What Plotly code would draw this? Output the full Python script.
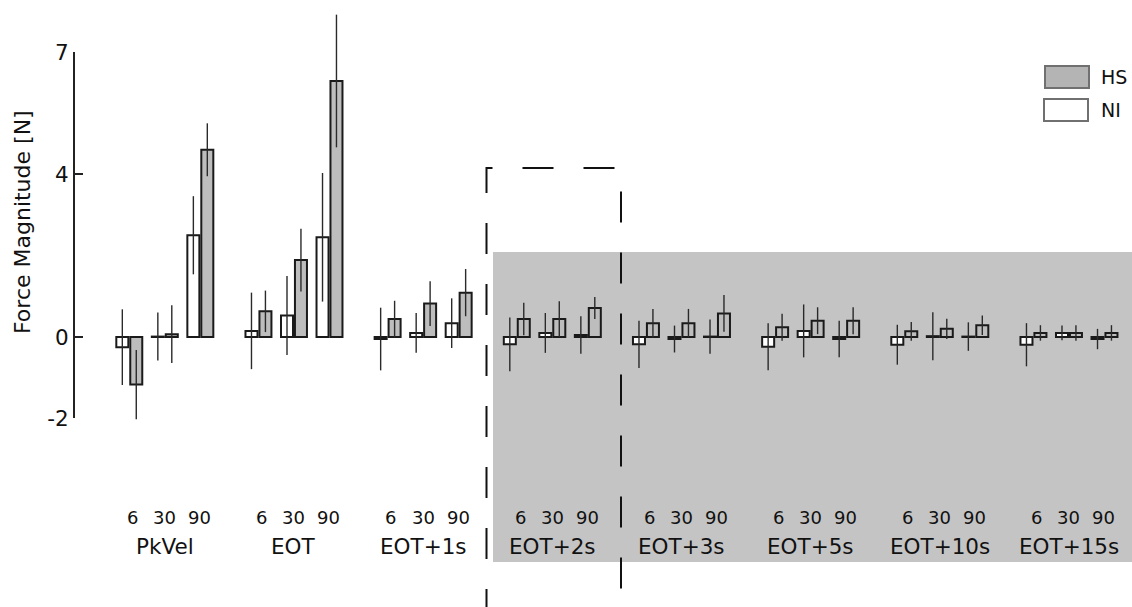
import plotly.graph_objects as go

# ---------------- data ----------------
groups = ["PkVel", "EOT", "EOT+1s", "EOT+2s", "EOT+3s", "EOT+5s", "EOT+10s", "EOT+15s"]
speeds = ["6", "30", "90"]

ni_vals = [
    [-0.25, 0.01, 2.50],
    [0.15, 0.53, 2.45],
    [-0.05, 0.10, 0.34],
    [-0.18, 0.10, 0.05],
    [-0.18, -0.05, 0.01],
    [-0.24, 0.15, -0.05],
    [-0.19, 0.02, 0.01],
    [-0.19, 0.10, -0.05],
]
ni_err = [
    [0.93, 0.59, 0.96],
    [0.94, 0.97, 1.58],
    [0.77, 0.49, 0.61],
    [0.66, 0.49, 0.46],
    [0.58, 0.33, 0.42],
    [0.58, 0.65, 0.45],
    [0.49, 0.59, 0.35],
    [0.53, 0.18, 0.25],
]
hs_vals = [
    [-1.17, 0.07, 4.60],
    [0.63, 1.89, 6.29],
    [0.44, 0.82, 1.09],
    [0.44, 0.44, 0.71],
    [0.34, 0.34, 0.58],
    [0.24, 0.40, 0.40],
    [0.14, 0.20, 0.29],
    [0.10, 0.10, 0.10],
]
hs_err = [
    [0.85, 0.71, 0.65],
    [0.51, 0.77, 1.63],
    [0.45, 0.55, 0.58],
    [0.40, 0.44, 0.27],
    [0.35, 0.35, 0.45],
    [0.33, 0.33, 0.33],
    [0.23, 0.25, 0.24],
    [0.19, 0.19, 0.19],
]
y_ticks = [-2, 0, 4, 7]

# ---------------- layout helpers ----------------
W, H = 1132, 607
FONT = "DejaVu Sans"
pair_off = [-0.275, 0.0, 0.275]
half = 0.054
bar_w = 0.093
label_off = [-0.25, 0.0, 0.27]

def flat(a):
    return [v for row in a for v in row]

ni_x = [g + pair_off[j] - half for g in range(len(groups)) for j in range(3)]
hs_x = [g + pair_off[j] + half for g in range(len(groups)) for j in range(3)]

err_style = dict(type="data", visible=True, thickness=1.4, width=0, color="#2a2a2a")

fig = go.Figure()
fig.add_trace(go.Bar(
    x=ni_x, y=flat(ni_vals), width=bar_w, name="NI",
    marker=dict(color="white", line=dict(color="#1a1a1a", width=2)),
    error_y=dict(array=flat(ni_err), **err_style),
))
fig.add_trace(go.Bar(
    x=hs_x, y=flat(hs_vals), width=bar_w, name="HS",
    marker=dict(color="#bdbdbd", line=dict(color="#1a1a1a", width=2)),
    error_y=dict(array=flat(hs_err), **err_style),
))
# axis-only subplot for the visible y axis
fig.add_trace(go.Scatter(x=[], y=[], xaxis="x2", yaxis="y2", showlegend=False))

def py(px):
    return 1 - px / H

def pxx(px):
    return px / W

shapes = [
    dict(type="rect", xref="paper", yref="paper", x0=pxx(493), x1=1.0, y0=py(562), y1=py(252),
         fillcolor="#c4c4c4", line=dict(width=0), layer="below"),
    dict(type="path", xref="paper", yref="paper",
         path=f"M {pxx(486.5)},{py(620)} L {pxx(486.5)},{py(168)} L {pxx(621)},{py(168)} L {pxx(621)},{py(620)}",
         line=dict(color="#111111", width=2, dash="31px,30px"), layer="above"),
    dict(type="rect", xref="paper", yref="paper", x0=pxx(1045), x1=pxx(1089), y0=py(88), y1=py(66),
         fillcolor="#b4b4b4", line=dict(color="#707070", width=2)),
    dict(type="rect", xref="paper", yref="paper", x0=pxx(1044), x1=pxx(1088), y0=py(121), y1=py(99),
         fillcolor="white", line=dict(color="#707070", width=2)),
]

annotations = [
    dict(text="HS", xref="paper", yref="paper", x=pxx(1099), y=py(77), xanchor="left", yanchor="middle",
         showarrow=False, font=dict(family=FONT, size=19, color="#111111")),
    dict(text="NI", xref="paper", yref="paper", x=pxx(1099), y=py(110), xanchor="left", yanchor="middle",
         showarrow=False, font=dict(family=FONT, size=19, color="#111111")),
    dict(text="Force Magnitude [N]", xref="paper", yref="paper", x=pxx(23), y=py(222), textangle=-90,
         xanchor="center", yanchor="middle", showarrow=False,
         font=dict(family=FONT, size=22, color="#111111")),
]
for g, name in enumerate(groups):
    for j, s in enumerate(speeds):
        annotations.append(dict(text=s, xref="x", yref="paper", x=g + label_off[j], y=py(517),
                                xanchor="center", yanchor="middle", showarrow=False,
                                font=dict(family=FONT, size=18, color="#111111")))
    annotations.append(dict(text=name, xref="x", yref="paper", x=g, y=py(546),
                            xanchor="center", yanchor="middle", showarrow=False,
                            font=dict(family=FONT, size=21.5, color="#111111")))

fig.update_layout(
    width=W, height=H, margin=dict(l=0, r=0, t=0, b=0, pad=0, autoexpand=False),
    paper_bgcolor="white", plot_bgcolor="rgba(0,0,0,0)",
    barmode="overlay", showlegend=False,
    xaxis=dict(domain=[0, 1], range=[-1.276, 7.488], visible=False, fixedrange=True, automargin=False),
    yaxis=dict(domain=[0, 1], range=[-6.634, 8.28], visible=False, fixedrange=True, automargin=False),
    xaxis2=dict(domain=[75 / W, 80 / W], range=[0, 1], visible=False, anchor="y2", automargin=False),
    yaxis2=dict(domain=[py(418.4), py(52)], range=[-2, 7], anchor="x2", automargin=False,
                showline=True, linewidth=2, linecolor="#222222",
                ticks="inside", ticklen=8, tickwidth=2, tickcolor="#222222",
                tickvals=y_ticks, ticktext=[str(t) for t in y_ticks],
                showgrid=False, zeroline=False, ticklabelstandoff=0,
                tickfont=dict(family=FONT, size=21.5, color="#111111")),
    shapes=shapes, annotations=annotations,
)

fig.write_html("out.html")
